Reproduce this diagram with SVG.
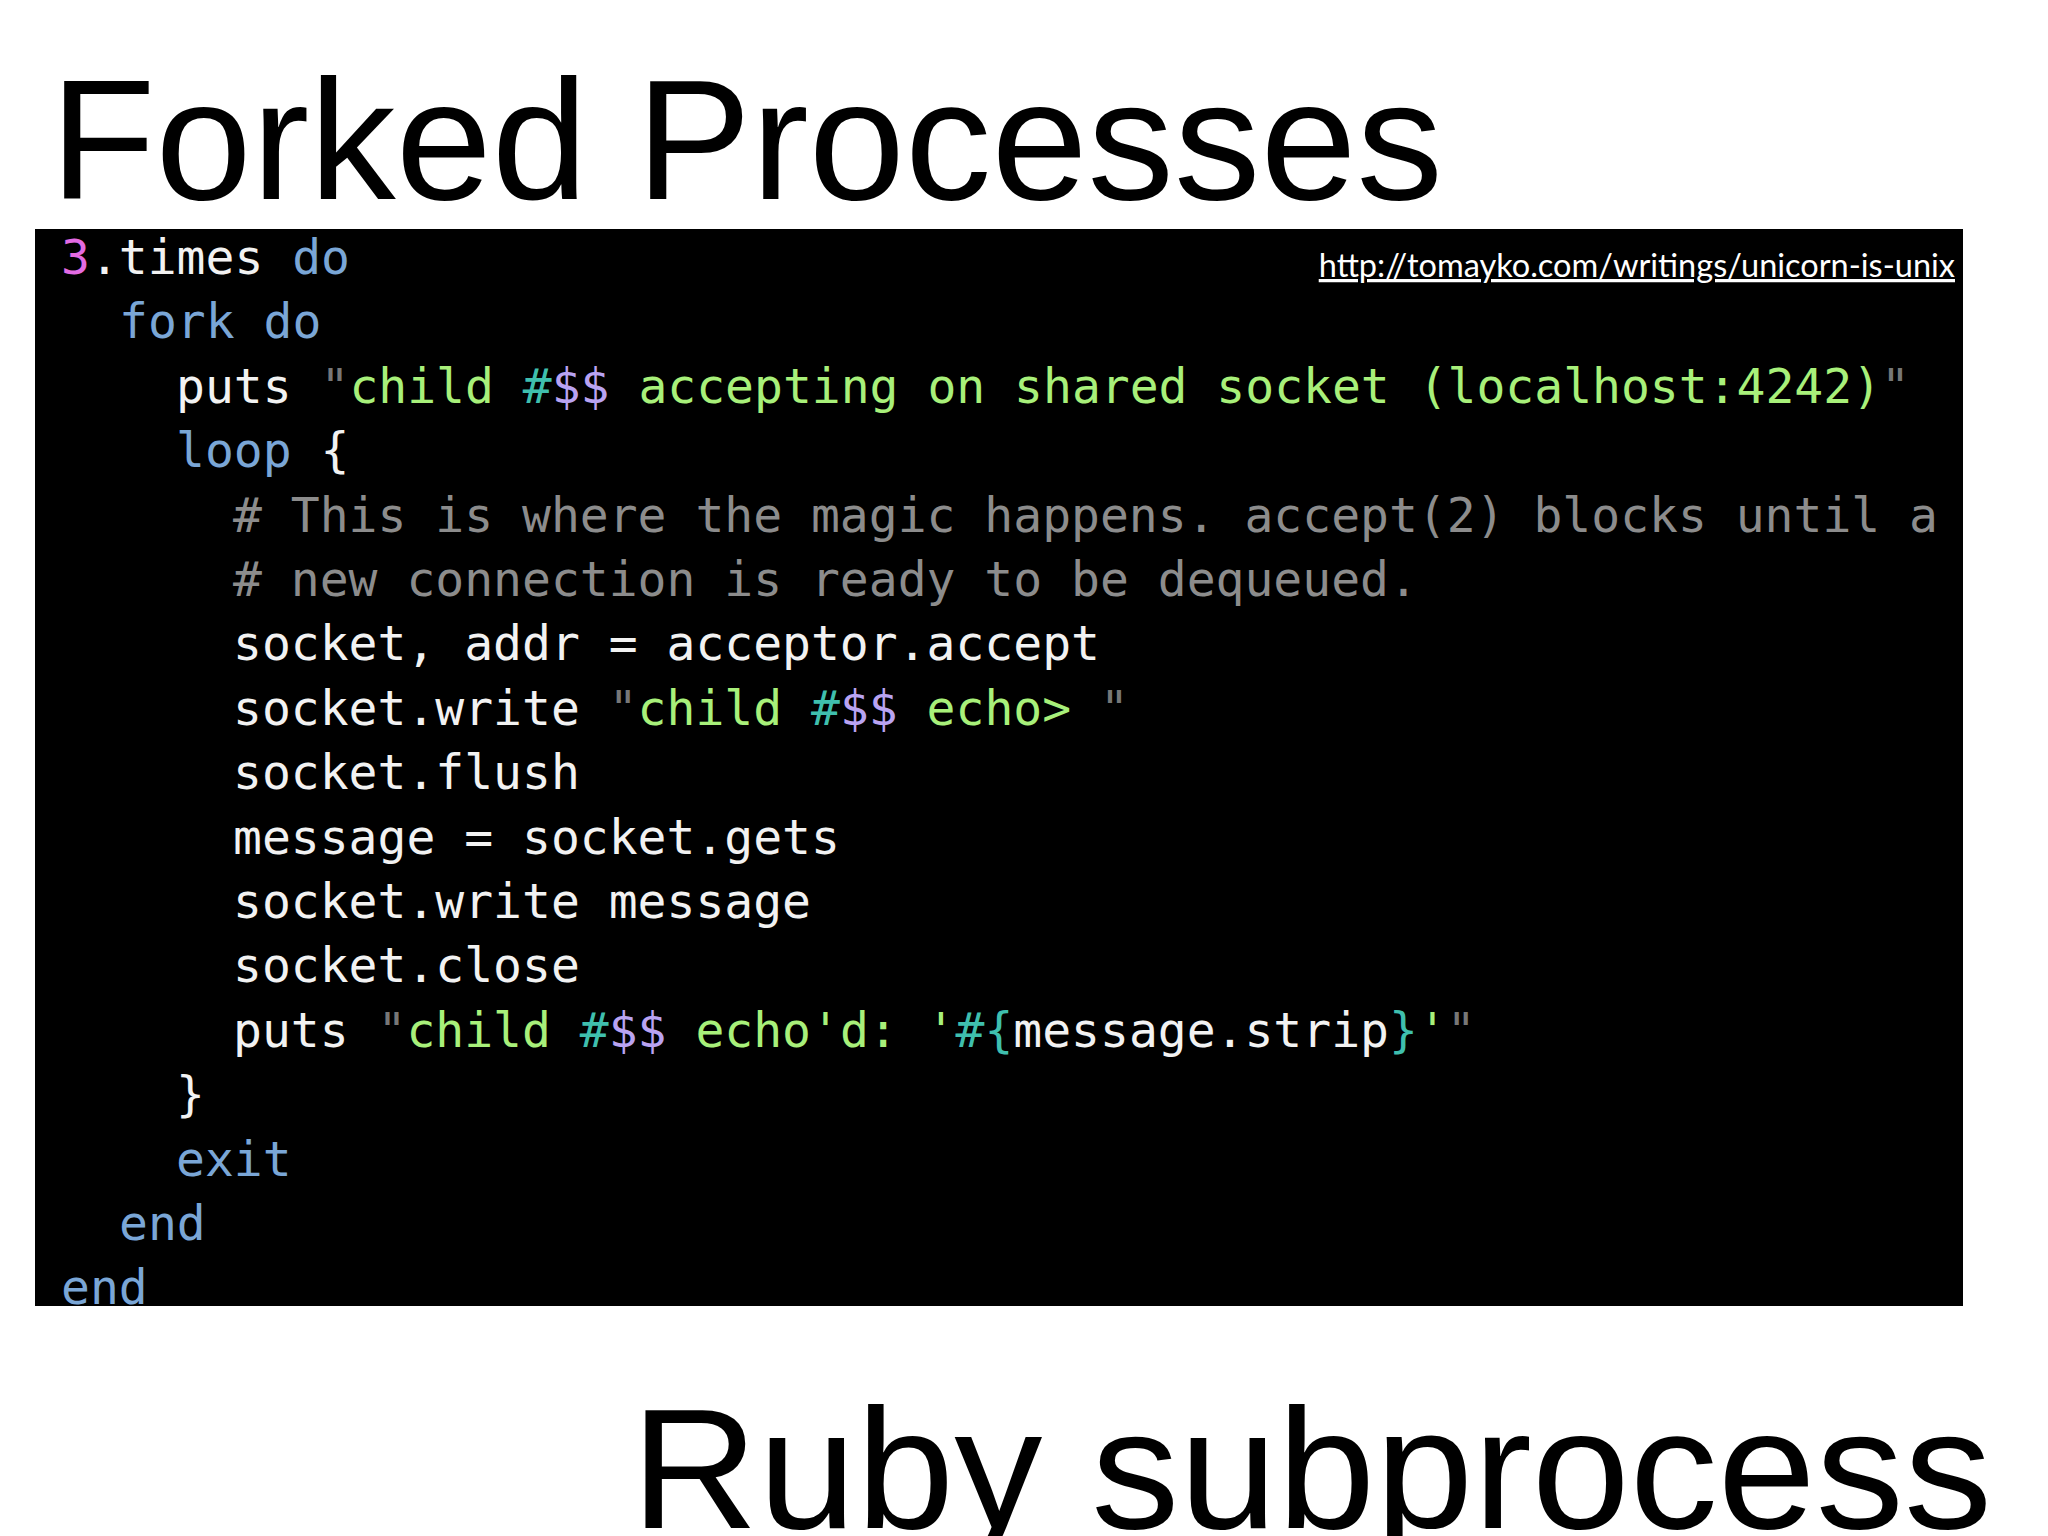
<svg xmlns="http://www.w3.org/2000/svg" width="2048" height="1536" viewBox="0 0 2048 1536">
<style>
.t{font-family:"Liberation Sans","DejaVu Sans",sans-serif;fill:#000}
.c{font-family:"DejaVu Sans Mono","Liberation Mono",monospace;font-size:48px;fill:#f2f2f2}
.k{fill:#7aa6d6}.s{fill:#a8f07a}.p{fill:#b9a3f2}.h{fill:#3fbfae}.g{fill:#8c8c8c}.m{fill:#e36be3}.q{fill:#777}
</style>
<rect width="2048" height="1536" fill="#fff"/>
<text id="title" class="t" x="50" y="199" font-size="170" textLength="1393" lengthAdjust="spacingAndGlyphs">Forked Processes</text>
<g id="code">
<rect x="35" y="229" width="1928" height="1077" fill="#000"/>
<text class="c" xml:space="preserve">
<tspan x="61" y="274"><tspan class="m">3</tspan>.times <tspan class="k">do</tspan></tspan>
<tspan x="119" y="338"><tspan class="k">fork do</tspan></tspan>
<tspan x="176" y="403">puts <tspan class="q">"</tspan><tspan class="s">child </tspan><tspan class="h">#</tspan><tspan class="p">$$</tspan><tspan class="s"> accepting on shared socket (localhost:4242)</tspan><tspan class="q">"</tspan></tspan>
<tspan x="176" y="467"><tspan class="k">loop</tspan> {</tspan>
<tspan x="233" y="532" class="g"># This is where the magic happens. accept(2) blocks until a</tspan>
<tspan x="233" y="596" class="g"># new connection is ready to be dequeued.</tspan>
<tspan x="233" y="660">socket, addr = acceptor.accept</tspan>
<tspan x="233" y="725">socket.write <tspan class="q">"</tspan><tspan class="s">child </tspan><tspan class="h">#</tspan><tspan class="p">$$</tspan><tspan class="s"> echo&gt; </tspan><tspan class="q">"</tspan></tspan>
<tspan x="233" y="789">socket.flush</tspan>
<tspan x="233" y="854">message = socket.gets</tspan>
<tspan x="233" y="918">socket.write message</tspan>
<tspan x="233" y="982">socket.close</tspan>
<tspan x="233" y="1047">puts <tspan class="q">"</tspan><tspan class="s">child </tspan><tspan class="h">#</tspan><tspan class="p">$$</tspan><tspan class="s"> echo'd: '</tspan><tspan class="h">#{</tspan>message.strip<tspan class="h">}</tspan><tspan class="s">'</tspan><tspan class="q">"</tspan></tspan>
<tspan x="176" y="1111">}</tspan>
<tspan x="176" y="1176" class="k">exit</tspan>
<tspan x="119" y="1240" class="k">end</tspan>
<tspan x="61" y="1304" class="k">end</tspan>
</text>
<text x="1955" y="277" text-anchor="end" font-family="Lato,'Liberation Sans',sans-serif" font-size="32.5" fill="#fff" text-decoration="underline">http://tomayko.com/writings/unicorn-is-unix</text>
</g>
<text id="subtitle" class="t" x="631" y="1528" font-size="170" textLength="1361" lengthAdjust="spacingAndGlyphs">Ruby subprocess</text>
</svg>
